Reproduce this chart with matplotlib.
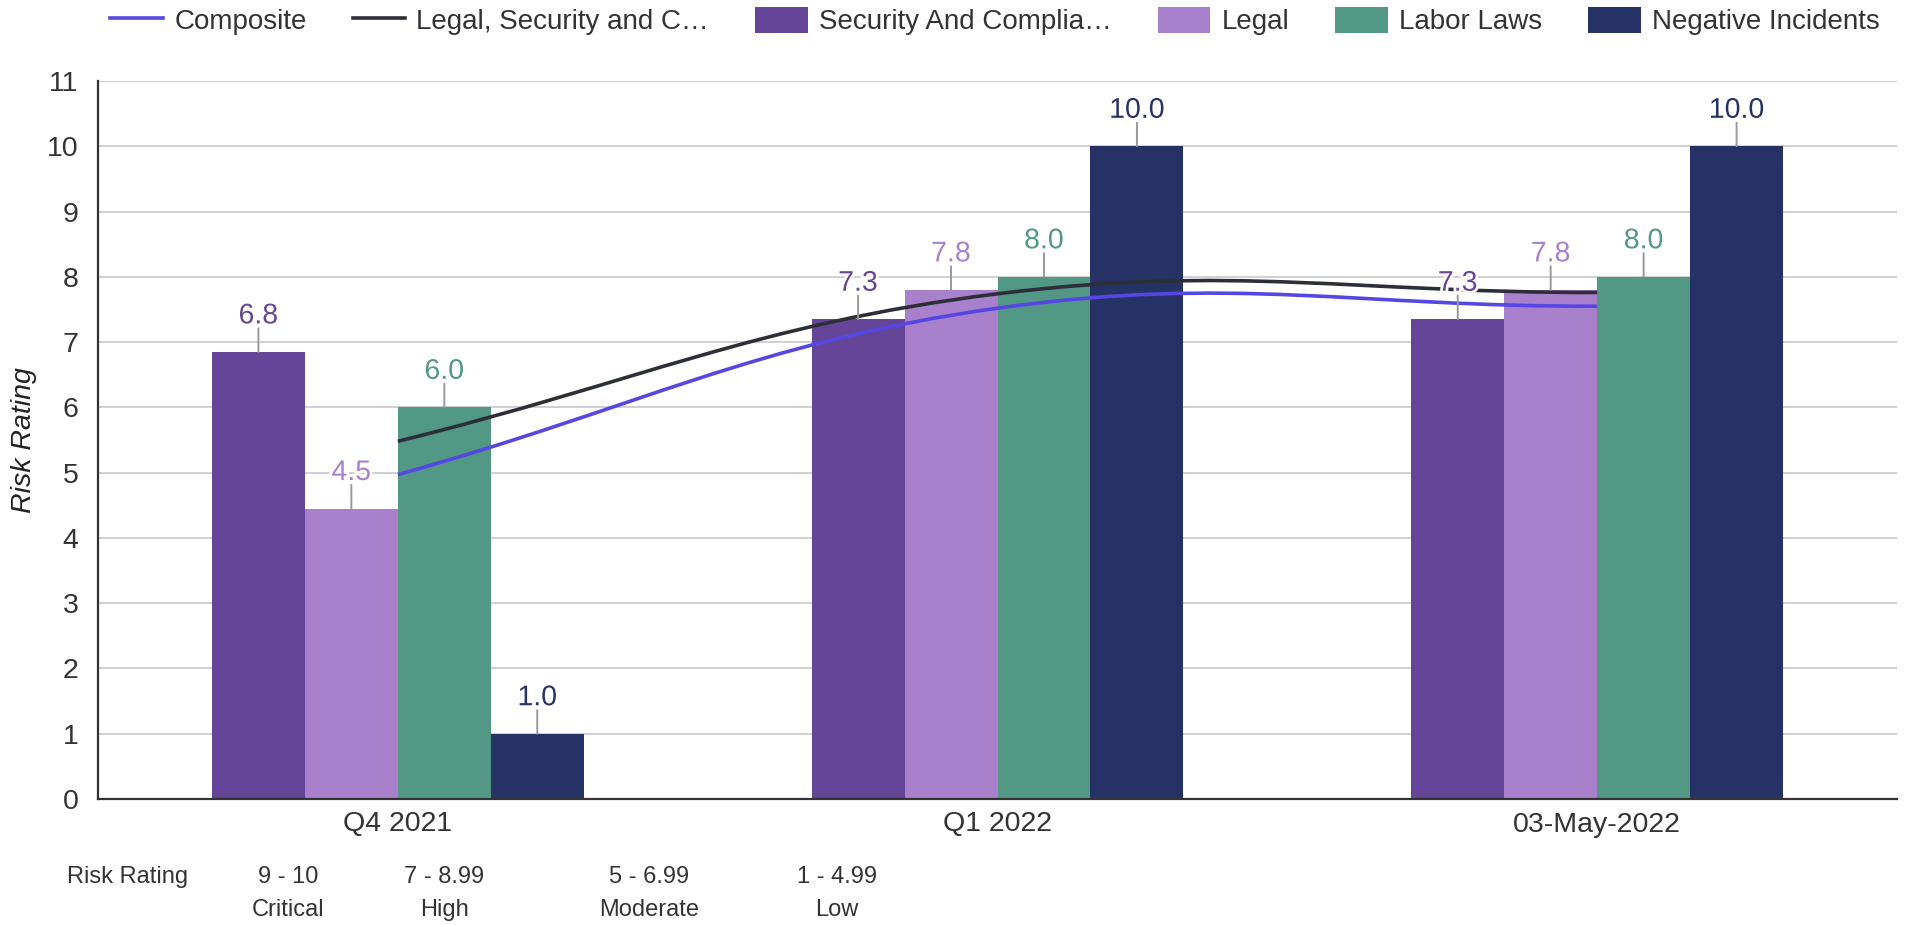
import numpy as np
import matplotlib
matplotlib.use("Agg")
import matplotlib.pyplot as plt
import matplotlib.patheffects as pe
from matplotlib.path import Path
from matplotlib.patches import PathPatch, Patch
from matplotlib.lines import Line2D

plt.rcParams["font.family"] = ["Liberation Sans", "DejaVu Sans"]
plt.rcParams["font.size"] = 20

# data
periods = ["Q4 2021", "Q1 2022", "03-May-2022"]
bar_names = ["Security And Complia\u2026", "Legal", "Labor Laws", "Negative Incidents"]
security = [6.85, 7.35, 7.35]
legal = [4.45, 7.8, 7.8]
labor = [6.0, 8.0, 8.0]
negative = [1.0, 10.0, 10.0]
line_names = ["Composite", "Legal, Security and C\u2026"]
composite = [4.97, 7.52, 7.55]
legal_sec = [5.48, 7.74, 7.76]

scale_ranges = ["9 - 10", "7 - 8.99", "5 - 6.99", "1 - 4.99"]
scale_names = ["Critical", "High", "Moderate", "Low"]

bar_colors = ["#654597", "#a980cc", "#529885", "#263266"]
line_colors = ["#5447e3", "#2c2f37"]

W, H = 1916, 925
fig = plt.figure(figsize=(W / 100, H / 100), dpi=100)
ax = fig.add_axes([98 / W, 1 - 799 / H, (1897 - 98) / W, (799 - 81) / H])

x = np.arange(len(periods))
bw = 0.155
ax.set_xlim(-0.5, 2.5)
ax.set_ylim(0, 11)

series = [security, legal, labor, negative]
for i, (vals, col) in enumerate(zip(series, bar_colors)):
    xs = x + (i - 1.5) * bw
    ax.bar(xs, vals, width=bw, color=col, zorder=2)
    for xi, v in zip(xs, vals):
        ax.annotate("", xy=(xi, v), xytext=(0, 17), textcoords="offset points",
                    arrowprops=dict(arrowstyle="-", color="#999999", lw=1.4,
                                    shrinkA=0, shrinkB=0), zorder=4)
        ax.annotate(f"{v:.1f}", xy=(xi, v), xytext=(0, 20.5), textcoords="offset points",
                    ha="center", va="baseline", color=col, fontsize=20.5, zorder=6,
                    path_effects=[pe.withStroke(linewidth=4, foreground="white")])


def tension_path(ax, xs, ys, t=0.4):
    # cubic bezier through the points, control points from neighbour distances
    pts = ax.transData.transform(np.column_stack([xs, ys]))
    n = len(pts)
    prev_cp, next_cp = [], []
    for i in range(n):
        p0, p1, p2 = pts[max(i - 1, 0)], pts[i], pts[min(i + 1, n - 1)]
        d01 = np.hypot(*(p1 - p0))
        d12 = np.hypot(*(p2 - p1))
        s01 = d01 / (d01 + d12)
        s12 = d12 / (d01 + d12)
        prev_cp.append(p1 - t * s01 * (p2 - p0))
        next_cp.append(p1 + t * s12 * (p2 - p0))
    verts = [pts[0]]
    codes = [Path.MOVETO]
    for i in range(1, n):
        verts += [next_cp[i - 1], prev_cp[i], pts[i]]
        codes += [Path.CURVE4] * 3
    verts = ax.transData.inverted().transform(np.array(verts))
    return Path(verts, codes)


for vals, col in zip([legal_sec, composite], [line_colors[1], line_colors[0]]):
    ax.add_patch(PathPatch(tension_path(ax, x, vals), facecolor="none",
                           edgecolor=col, lw=2.6, zorder=3, capstyle="butt"))

ax.set_yticks(range(0, 12))
ax.set_xticks(x)
ax.set_xticklabels(periods)
ax.tick_params(axis="y", length=0, pad=14, colors="#333333", labelsize=20.5)
ax.tick_params(axis="x", length=0, pad=9, colors="#333333", labelsize=20.5)
ax.grid(axis="y", color="#c8c8c8", lw=1.2, zorder=0)
ax.set_axisbelow(True)
for s in ["top", "right"]:
    ax.spines[s].set_visible(False)
for s in ["left", "bottom"]:
    ax.spines[s].set_color("#333333")
    ax.spines[s].set_linewidth(1.6)
    ax.spines[s].set_zorder(5)

fig.text(24 / W, 1 - 440 / H, "Risk Rating", rotation=90, ha="center", va="center",
         fontstyle="italic", fontsize=20.5, color="#222222")

handles = [Line2D([], [], color=line_colors[0], lw=2.6),
           Line2D([], [], color=line_colors[1], lw=2.6)]
handles += [Patch(facecolor=c, edgecolor="none") for c in bar_colors]
fig.legend(handles, line_names + bar_names, loc="center", ncol=6,
           bbox_to_anchor=(995 / W, 1 - 21 / H), frameon=False, fontsize=20,
           handlelength=1.9, handleheight=1.05, handletextpad=0.4,
           columnspacing=1.65, labelcolor="#333333")

# rating scale below the chart
fig.text(128 / W, 1 - 877 / H, "Risk Rating", ha="center", va="center",
         fontsize=17, color="#333333")
for cx, rng, nm in zip([288, 444, 649, 837], scale_ranges, scale_names):
    fig.text(cx / W, 1 - 877 / H, rng, ha="center", va="center", fontsize=17, color="#333333")
    fig.text(cx / W, 1 - 910 / H, nm, ha="center", va="center", fontsize=17, color="#333333")

fig.savefig("out.png", dpi=100, facecolor="white")
